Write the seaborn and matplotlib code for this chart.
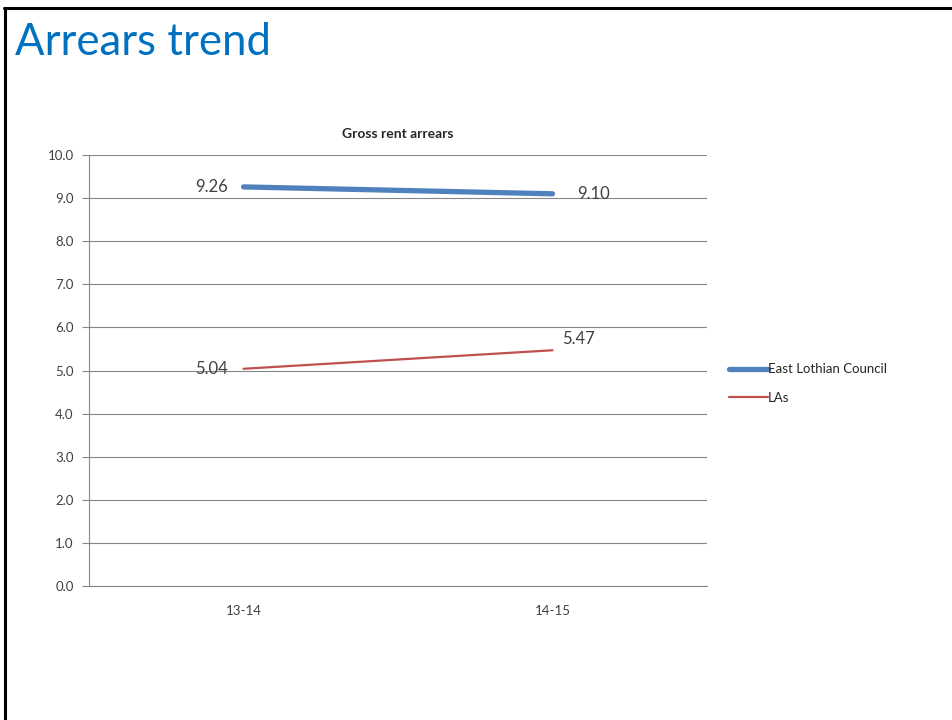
import matplotlib
matplotlib.use('Agg')
import matplotlib.pyplot as plt
from matplotlib.lines import Line2D
import seaborn as sns
import pandas as pd

# chart data
periods = ['13-14', '14-15']
east_lothian = [9.26, 9.10]
las = [5.04, 5.47]
series_names = ['East Lothian Council', 'LAs']

df = pd.DataFrame({
    'period': periods * 2,
    'value': east_lothian + las,
    'series': [series_names[0]] * 2 + [series_names[1]] * 2,
})

sns.set_style('white')
plt.rcParams['font.family'] = ['Lato', 'DejaVu Sans']

fig = plt.figure(figsize=(9.53, 7.2), dpi=100)
ax = fig.add_axes([0.0934, 0.1861, 0.6485, 0.5986])

palette = {series_names[0]: '#4F81BD', series_names[1]: '#C0504D'}
sns.lineplot(data=df, x='period', y='value', hue='series', palette=palette,
             sort=False, ax=ax, legend=False)
ax.lines[0].set_linewidth(3.8)
ax.lines[0].set_solid_capstyle('round')
ax.lines[1].set_linewidth(1.6)

ax.set_xlim(-0.5, 1.5)
ax.set_ylim(0, 10)
ax.set_yticks([i for i in range(11)])
ax.set_yticklabels([f'{i:.1f}' for i in range(11)], fontsize=9.5, color='#404040')
ax.set_xticks([0, 1])
ax.set_xticklabels(periods, fontsize=9.5, color='#404040')
ax.set_xticks([-0.5, 0.5, 1.5], minor=True)
ax.tick_params(axis='x', which='major', length=0, pad=14)
ax.tick_params(axis='x', which='minor', length=5, color='#868686', direction='out')
ax.tick_params(axis='y', length=5, color='#868686', direction='out', left=True, pad=6)
ax.set_xlabel('')
ax.set_ylabel('')
ax.grid(axis='y', color='#868686', linewidth=0.8)
ax.set_axisbelow(True)
for s in ['top', 'right']:
    ax.spines[s].set_visible(False)
for s in ['left', 'bottom']:
    ax.spines[s].set_color('#868686')
    ax.spines[s].set_linewidth(0.8)

ax.set_title('Gross rent arrears', fontsize=10, fontweight='bold', pad=12)

# data labels
lbl = dict(fontsize=12, color='#404040', va='center')
ax.text(-0.05, east_lothian[0], f'{east_lothian[0]:.2f}', ha='right', **lbl)
ax.text(1.08, east_lothian[1], f'{east_lothian[1]:.2f}', ha='left', **lbl)
ax.text(-0.05, las[0], f'{las[0]:.2f}', ha='right', **lbl)
ax.text(1.03, las[1] + 0.08, f'{las[1]:.2f}', ha='left', va='bottom',
        fontsize=12, color='#404040')

handles = [Line2D([], [], color='#4F81BD', lw=3.8, solid_capstyle='round'),
           Line2D([], [], color='#C0504D', lw=1.6)]
fig.legend(handles, series_names, loc='upper left', bbox_to_anchor=(0.752, 0.512),
           frameon=False, fontsize=9.5, handlelength=3.0, handletextpad=0.0,
           labelspacing=1.25)

fig.text(0.016, 0.941, 'Arrears trend', fontsize=31.5, color='#0070C0', va='center')

# slide frame
fig.add_artist(Line2D([0.0052, 0.0052], [0.0, 0.989], color='black', lw=2.2,
                      transform=fig.transFigure))
fig.add_artist(Line2D([0.0042, 0.999], [0.989, 0.989], color='black', lw=2.2,
                      transform=fig.transFigure))

fig.savefig('out.png', dpi=100, facecolor='white')
